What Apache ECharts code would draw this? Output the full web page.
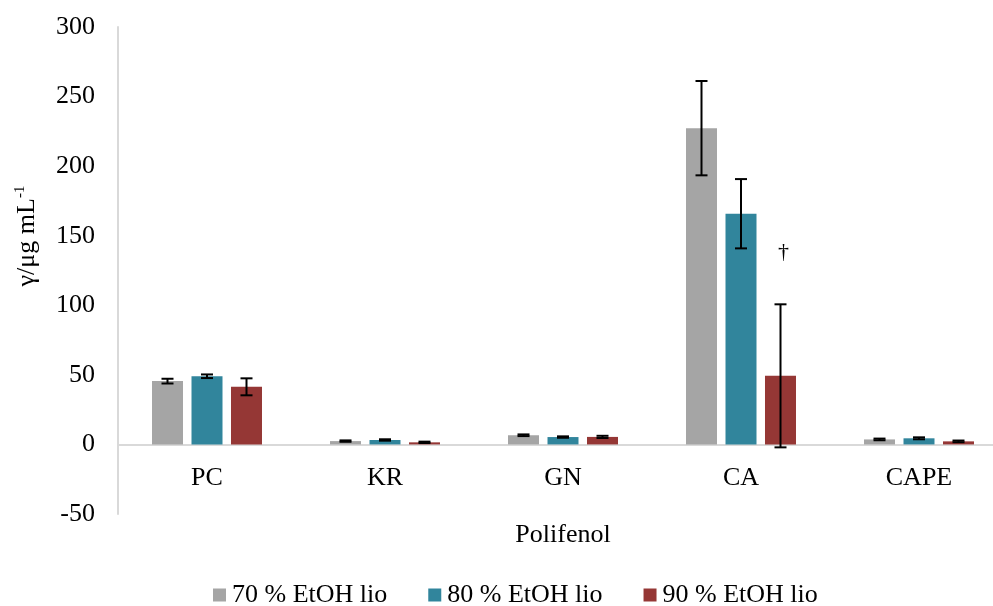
<!DOCTYPE html>
<html>
<head>
<meta charset="utf-8">
<script src="https://cdn.jsdelivr.net/npm/echarts@6/dist/echarts.min.js"></script>
<style>
  html, body { margin: 0; padding: 0; background: #fff; }
  #chart { width: 993px; height: 606px; }
</style>
</head>
<body>
<div id="chart"></div>
<script>
// ---- data ----
const categories = ['PC', 'KR', 'GN', 'CA', 'CAPE'];
const seriesNames = ['70 % EtOH lio', '80 % EtOH lio', '90 % EtOH lio'];
const values70 = [45.5, 2.4, 6.6, 227.3, 3.6];
const values80 = [49.0, 3.2, 5.3, 165.8, 4.4];
const values90 = [41.4, 1.5, 5.4, 49.3, 2.2];
const errors70 = [1.7, 0.5, 0.6, 33.9, 0.6];
const errors80 = [1.3, 0.5, 0.5, 24.9, 0.7];
const errors90 = [6.1, 0.5, 0.8, 51.4, 0.6];
const yMin = -50, yMax = 300, yStep = 50;
const annotations = [{ category: 'CA', seriesIndex: 2, value: 138, text: '†' }];
const xAxisTitle = 'Polifenol';
const yAxisTitle = 'γ/μg mL';
const yAxisTitleSup = '-1';

// ---- styling ----
const FONT = '"Liberation Serif", "Times New Roman", serif';
const FS = 26;
const colors = ['#A5A5A5', '#31859C', '#953735'];
const BAR_W = 31;
const BAR_GAP = 8.5;
const AXIS_COLOR = '#D9D9D9';

const values = [values70, values80, values90];
const errors = [errors70, errors80, errors90];

const chart = echarts.init(document.getElementById('chart'), null, { renderer: 'canvas' });

const barSeries = seriesNames.map((name, i) => ({
  name: name,
  type: 'bar',
  data: values[i],
  barWidth: BAR_W,
  barGap: (BAR_GAP / BAR_W * 100).toFixed(1) + '%',
  itemStyle: { color: colors[i] },
  emphasis: { disabled: true },
  z: 2
}));

const errSeries = seriesNames.map((name, i) => ({
  type: 'custom',
  name: name + ' err',
  data: categories.map((c, j) => [j, values[i][j], errors[i][j]]),
  z: 5,
  silent: true,
  renderItem: function (params, api) {
    const x = api.value(0), v = api.value(1), e = api.value(2);
    const hi = api.coord([x, v + e]);
    const lo = api.coord([x, v - e]);
    const cx = hi[0] + (i - 1) * (BAR_W + BAR_GAP);
    const cap = 6;
    const st = { stroke: '#000', lineWidth: 2 };
    return {
      type: 'group',
      children: [
        { type: 'line', shape: { x1: cx, y1: hi[1], x2: cx, y2: lo[1] }, style: st },
        { type: 'line', shape: { x1: cx - cap, y1: hi[1], x2: cx + cap, y2: hi[1] }, style: st },
        { type: 'line', shape: { x1: cx - cap, y1: lo[1], x2: cx + cap, y2: lo[1] }, style: st }
      ]
    };
  }
}));

const annSeries = {
  type: 'custom',
  name: 'annotations',
  data: annotations.map(a => [categories.indexOf(a.category), a.value, a.seriesIndex]),
  z: 6,
  silent: true,
  renderItem: function (params, api) {
    const p = api.coord([api.value(0), api.value(1)]);
    const si = api.value(2);
    const cx = p[0] + (si - 1) * (BAR_W + BAR_GAP) + 3;
    return {
      type: 'text',
      style: {
        x: cx, y: p[1],
        text: annotations[params.dataIndex].text,
        font: '22px ' + FONT,
        fill: '#000',
        align: 'center',
        verticalAlign: 'middle'
      }
    };
  }
};

const option = {
  animation: false,
  backgroundColor: '#fff',
  grid: { left: 118, top: 27, width: 890, bottom: 92, containLabel: false, outerBoundsMode: 'none' },
  legend: {
    data: seriesNames,
    left: 213,
    top: 582,
    padding: 0,
    icon: 'rect',
    itemWidth: 13,
    itemHeight: 13,
    itemGap: 41,
    textStyle: { fontFamily: FONT, fontSize: FS, color: '#000', padding: [3, 0, 0, 1] },
    selectedMode: false
  },
  xAxis: {
    type: 'category',
    data: categories,
    name: xAxisTitle,
    nameLocation: 'middle',
    nameGap: 8,
    nameMoveOverlap: false,
    nameTextStyle: { fontFamily: FONT, fontSize: FS, color: '#000' },
    axisLine: { show: true, onZero: true, lineStyle: { color: AXIS_COLOR, width: 2 } },
    axisTick: { show: false },
    axisLabel: { fontFamily: FONT, fontSize: FS, color: '#000', margin: -49 },
    splitLine: { show: false }
  },
  yAxis: {
    type: 'value',
    min: yMin,
    max: yMax,
    interval: yStep,
    axisLine: { show: true, lineStyle: { color: AXIS_COLOR, width: 2 } },
    axisTick: { show: false },
    axisLabel: { fontFamily: FONT, fontSize: FS, color: '#000', margin: 23 },
    splitLine: { show: false }
  },
  graphic: [{
    type: 'text',
    x: 27,
    y: 236,
    rotation: Math.PI / 2,
    style: {
      text: '{a|' + yAxisTitle + '}{s|' + yAxisTitleSup + '}',
      align: 'center',
      verticalAlign: 'middle',
      rich: {
        a: { fontFamily: FONT, fontSize: FS, fill: '#000', lineHeight: 28 },
        s: { fontFamily: FONT, fontSize: 15, fill: '#000', verticalAlign: 'top', lineHeight: 28, padding: [0, 0, 10, 0] }
      }
    }
  }],
  series: [...barSeries, ...errSeries, annSeries]
};

chart.setOption(option);
</script>
</body>
</html>
